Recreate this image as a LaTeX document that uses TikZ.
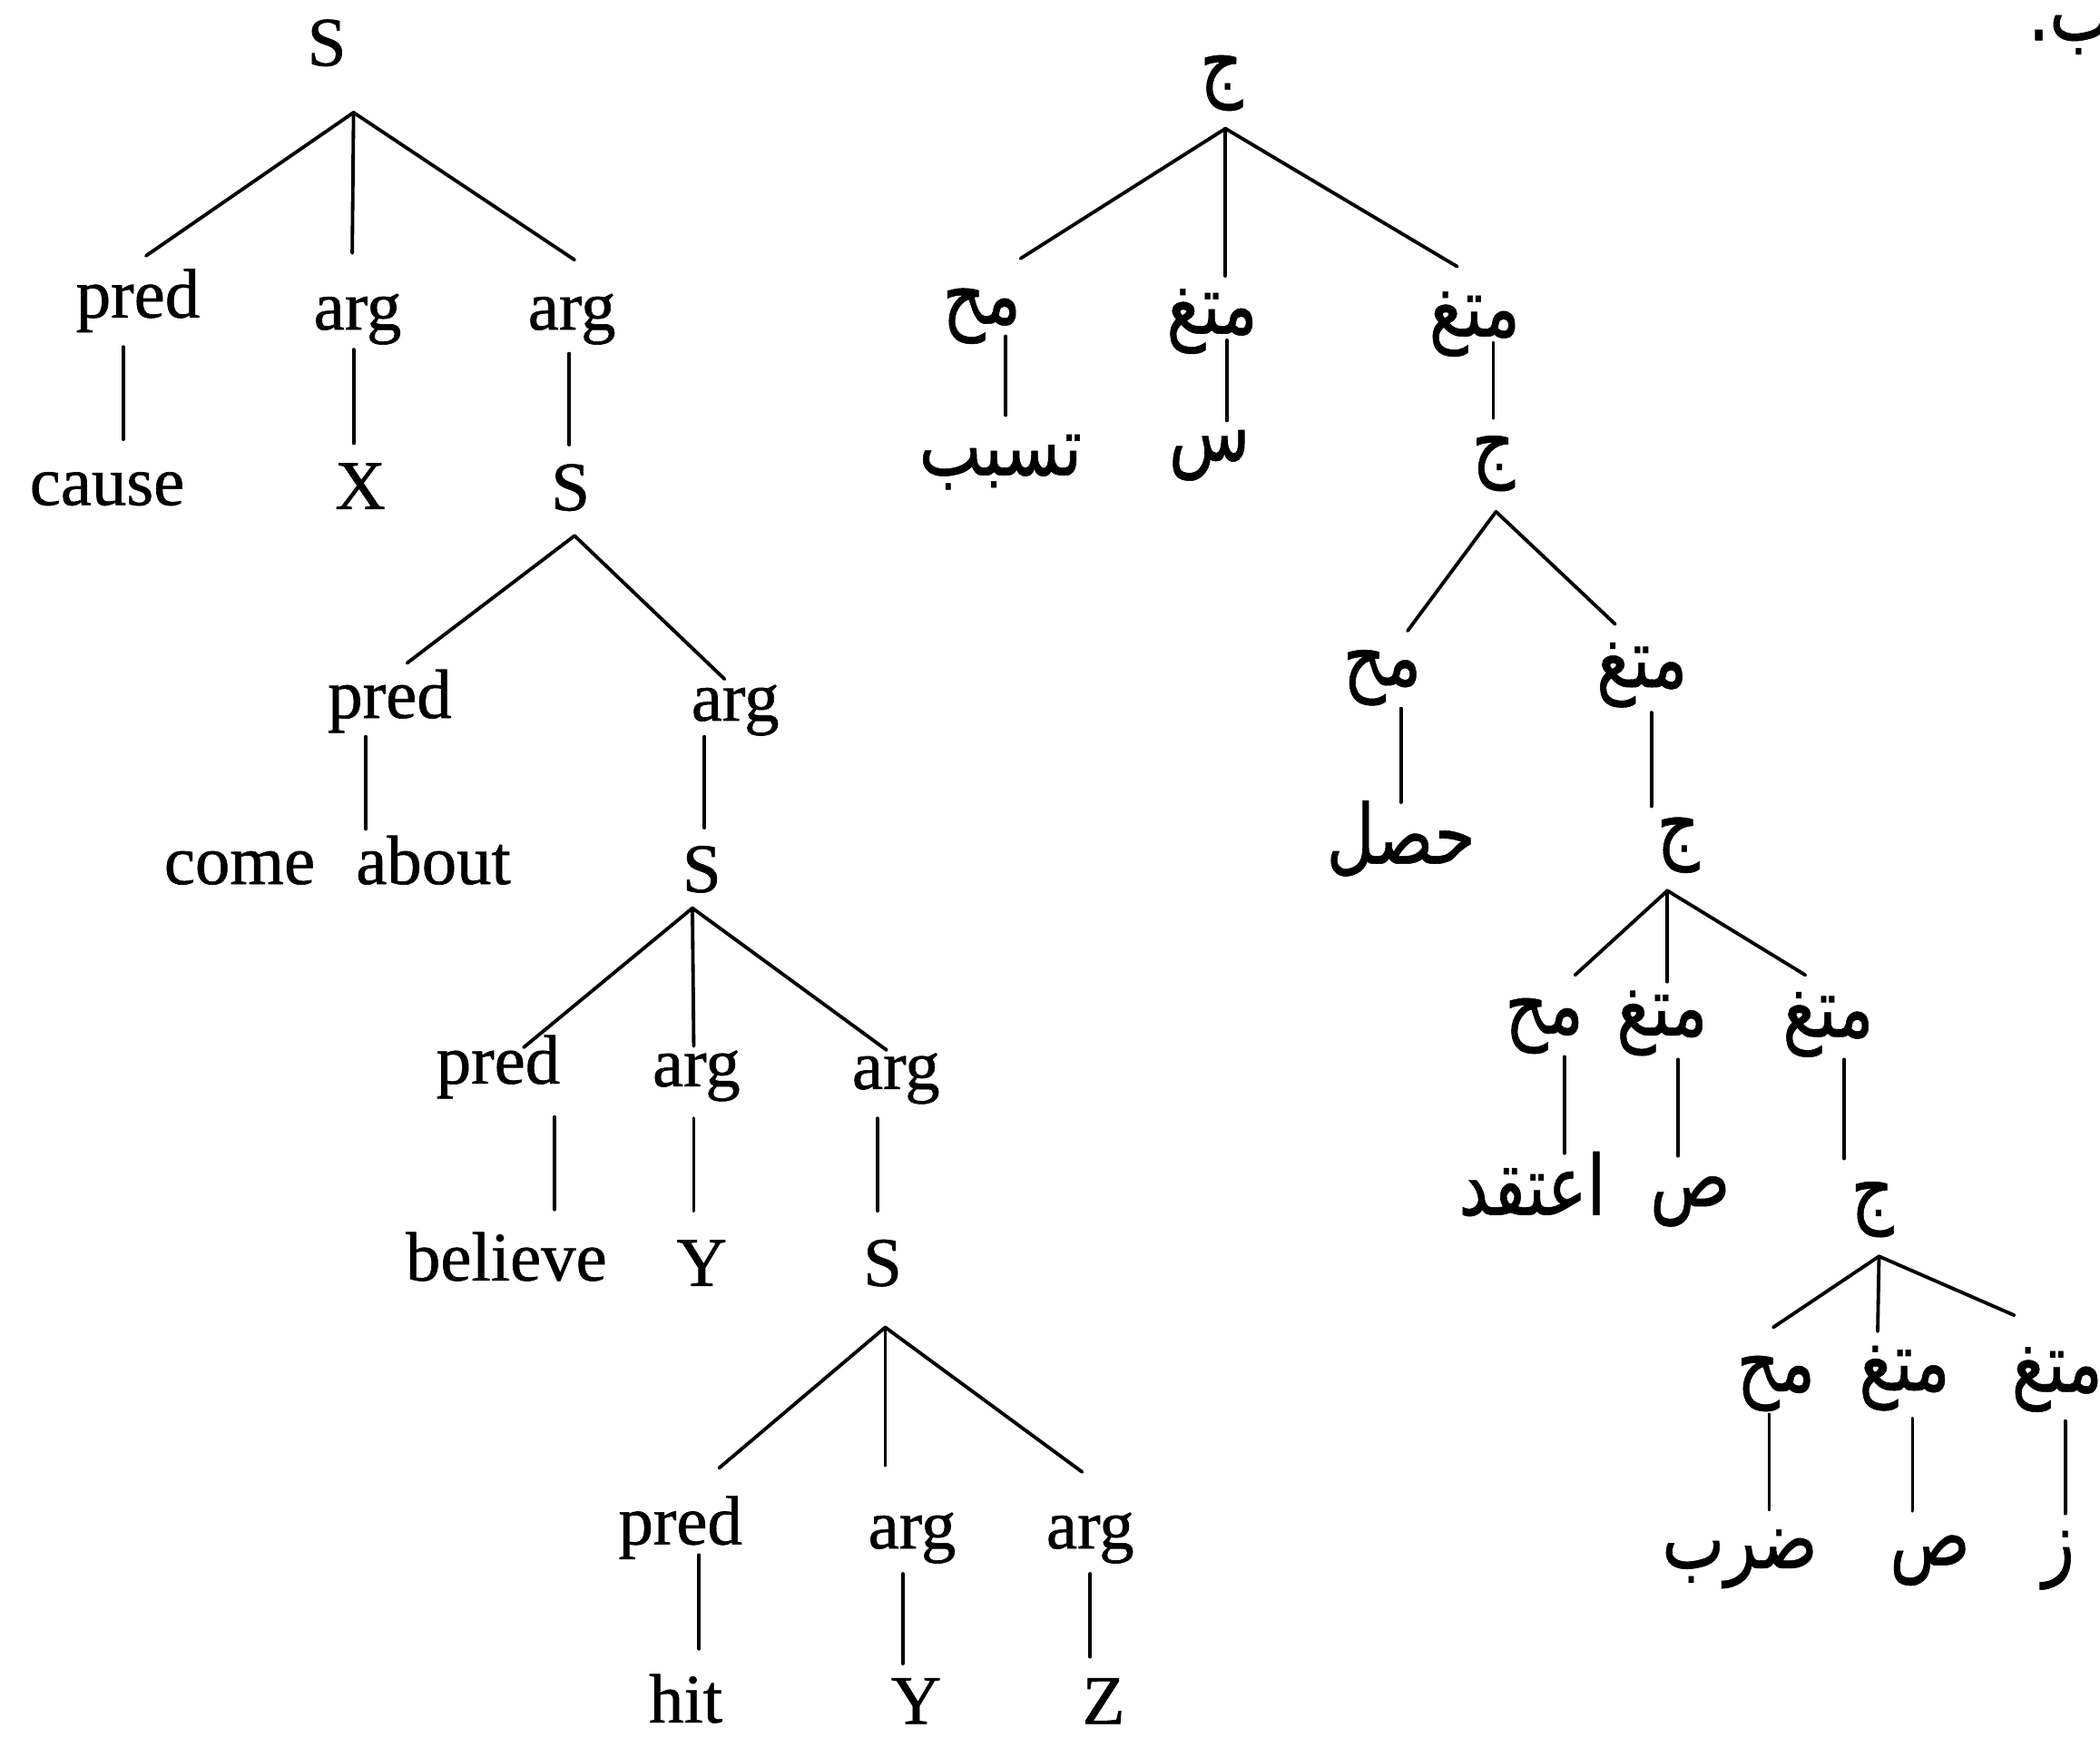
\documentclass[tikz,border=0pt]{standalone}
\usepackage{fontspec}
\setmainfont{Liberation Serif}[FakeBold=0.8]
\newfontfamily\arabicfont[Script=Arabic,FakeStretch=0.8,FakeBold=0.6]{DejaVu Sans}
\TeXXeTstate=1
\begin{document}
\begin{tikzpicture}[x=0.5pt,y=-0.5pt,
  lat/.style={font=\fontsize{26}{30}\selectfont, inner sep=0pt, anchor=base},
  ar/.style={font=\fontsize{31}{36}\selectfont\arabicfont, inner sep=0pt, anchor=center},
  edge/.style={line width=1.3pt, line cap=round}]
\useasboundingbox (0,0) rectangle (1568,1297);
\clip (0,0) rectangle (1568,1297);

% ---------------- left tree ----------------
\node[lat] (S0) at (244,49) {S};
\node[lat] (P1) at (103,237) {pred};
\node[lat] (A1) at (267,246) {arg};
\node[lat] (A2) at (427,246) {arg};
\node[lat] (C1) at (80,377) {cause};
\node[lat] (X1) at (269,380) {X};
\node[lat] (S1) at (426,381) {S};
\node[lat] (P2) at (291,536) {pred};
\node[lat] (A3) at (549,538) {arg};
\node[lat] (CA) at (252,660) {come\hspace{0.59em}about};
\node[lat] (S2) at (524,666) {S};
\node[lat] (P3) at (372,809) {pred};
\node[lat] (A4) at (520,811) {arg};
\node[lat] (A5) at (669,813) {arg};
\node[lat] (B1) at (378,956) {believe};
\node[lat] (Y1) at (524,960) {Y};
\node[lat] (S3) at (659,960) {S};
\node[lat] (P4) at (508,1153) {pred};
\node[lat] (A6) at (681,1156) {arg};
\node[lat] (A7) at (814,1156) {arg};
\node[lat] (H1) at (512,1286) {hit};
\node[lat] (Y2) at (684,1287) {Y};
\node[lat] (Z1) at (824,1287) {Z};

\coordinate (S0b) at (264,84);
\coordinate (P1t) at (109,191);
\coordinate (A1t) at (263,189);
\coordinate (A2t) at (429,194);
\coordinate (P1b) at (92,259);
\coordinate (C1t) at (92,328);
\coordinate (A1b) at (264,261);
\coordinate (X1t) at (264,331);
\coordinate (A2b) at (425,264);
\coordinate (S1t) at (425,332);
\coordinate (S1b) at (429,400);
\coordinate (P2t) at (304,495);
\coordinate (A3t) at (541,507);
\coordinate (P2b) at (273,550);
\coordinate (CAt) at (273,619);
\coordinate (A3b) at (526,550);
\coordinate (S2t) at (526,618);
\coordinate (S2b) at (517,678);
\coordinate (P3t) at (391,782);
\coordinate (A4t) at (518,781);
\coordinate (A5t) at (662,784);
\coordinate (P3b) at (414,834);
\coordinate (B1t) at (414,903);
\coordinate (A4b) at (518,835);
\coordinate (Y1t) at (518,904);
\coordinate (A5b) at (655,835);
\coordinate (S3t) at (655,904);
\coordinate (S3b) at (661,991);
\coordinate (P4t) at (537,1096);
\coordinate (A6t) at (661,1094);
\coordinate (A7t) at (808,1099);
\coordinate (P4b) at (522,1161);
\coordinate (H1t) at (522,1231);
\coordinate (A6b) at (674,1175);
\coordinate (Y2t) at (674,1242);
\coordinate (A7b) at (814,1175);
\coordinate (Z1t) at (814,1237);

\foreach \a/\b in {S0b/P1t,S0b/A1t,S0b/A2t,P1b/C1t,A1b/X1t,A2b/S1t,
  S1b/P2t,S1b/A3t,P2b/CAt,A3b/S2t,
  S2b/P3t,S2b/A4t,S2b/A5t,P3b/B1t,A4b/Y1t,A5b/S3t,
  S3b/P4t,S3b/A6t,S3b/A7t,P4b/H1t,A6b/Y2t,A7b/Z1t}
  \draw[edge] (\a) -- (\b);

% ---------------- right tree ----------------
\node[ar] (J0) at (912,62) {\beginR ج\endR};
\node[ar] (M1) at (733,236) {\beginR مح\endR};
\node[ar] (T1) at (905,240) {\beginR متغ\endR};
\node[ar] (T2) at (1101,242) {\beginR متغ\endR};
\node[ar] (W1) at (747,345) {\beginR تسبب\endR};
\node[ar] (W2) at (903,340) {\beginR س\endR};
\node[ar] (J1) at (1115,346) {\beginR ج\endR};
\node[ar] (M2) at (1032,506) {\beginR مح\endR};
\node[ar] (T3) at (1226,504) {\beginR متغ\endR};
\node[ar] (W3) at (1046,626) {\beginR حصل\endR};
\node[ar] (J2) at (1253,631) {\beginR ج\endR};
\node[ar] (M3) at (1153,766) {\beginR مح\endR};
\node[ar] (T4) at (1241,764) {\beginR متغ\endR};
\node[ar] (T5) at (1365,765) {\beginR متغ\endR};
\node[ar] (W4) at (1144,884) {\beginR اعتقد\endR};
\node[ar] (W5) at (1262,897) {\beginR ص\endR};
\node[ar] (J3) at (1398,903) {\beginR ج\endR};
\node[ar] (M4) at (1326,1033) {\beginR مح\endR};
\node[ar] (T6) at (1422,1029) {\beginR متغ\endR};
\node[ar] (T7) at (1536,1030) {\beginR متغ\endR};
\node[ar] (W6) at (1299,1164) {\beginR ضرب\endR};
\node[ar] (W7) at (1441,1165) {\beginR ص\endR};
\node[ar] (W8) at (1537,1165) {\beginR ز\endR};
\node[ar, anchor=base west] (LB) at (1514,30) {\beginR ب.\endR};

\coordinate (J0b) at (915,96);
\coordinate (M1t) at (762,193);
\coordinate (T1t) at (915,206);
\coordinate (T2t) at (1088,199);
\coordinate (M1b) at (751,251);
\coordinate (W1t) at (751,310);
\coordinate (T1b) at (916,254);
\coordinate (W2t) at (916,314);
\coordinate (T2b) at (1115,256);
\coordinate (J1t) at (1115,312);
\coordinate (J1b) at (1117,382);
\coordinate (M2t) at (1051,471);
\coordinate (T3t) at (1206,466);
\coordinate (M2b) at (1046,529);
\coordinate (W3t) at (1046,599);
\coordinate (T3b) at (1233,532);
\coordinate (J2t) at (1233,602);
\coordinate (J2b) at (1245,665);
\coordinate (M3t) at (1176,728);
\coordinate (T4t) at (1245,733);
\coordinate (T5t) at (1348,728);
\coordinate (M3b) at (1168,789);
\coordinate (W4t) at (1168,861);
\coordinate (T4b) at (1253,791);
\coordinate (W5t) at (1253,863);
\coordinate (T5b) at (1377,791);
\coordinate (J3t) at (1377,865);
\coordinate (J3b) at (1403,938);
\coordinate (M4t) at (1324,991);
\coordinate (T6t) at (1402,994);
\coordinate (T7t) at (1504,982);
\coordinate (M4b) at (1321,1056);
\coordinate (W6t) at (1321,1127);
\coordinate (T6b) at (1428,1059);
\coordinate (W7t) at (1428,1128);
\coordinate (T7b) at (1542,1061);
\coordinate (W8t) at (1542,1130);

\foreach \a/\b in {J0b/M1t,J0b/T1t,J0b/T2t,M1b/W1t,T1b/W2t,T2b/J1t,
  J1b/M2t,J1b/T3t,M2b/W3t,T3b/J2t,
  J2b/M3t,J2b/T4t,J2b/T5t,M3b/W4t,T4b/W5t,T5b/J3t,
  J3b/M4t,J3b/T6t,J3b/T7t,M4b/W6t,T6b/W7t,T7b/W8t}
  \draw[edge] (\a) -- (\b);
\end{tikzpicture}
\end{document}
